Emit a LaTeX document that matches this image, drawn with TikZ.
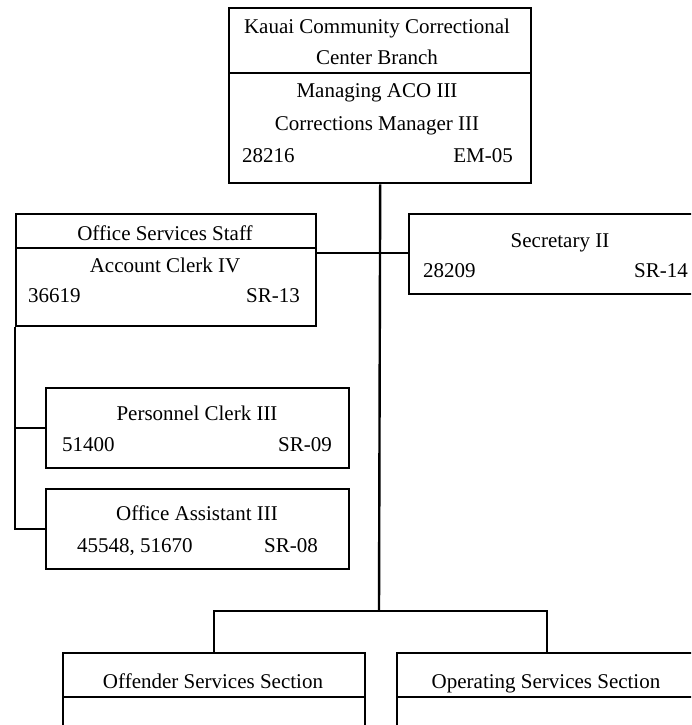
\documentclass[tikz,border=0pt]{standalone}
\usepackage{fontspec}
\setmainfont{Liberation Serif}
\begin{document}
\begin{tikzpicture}[x=1pt,y=-1pt,
  box/.style={draw, line width=2.4pt, inner sep=0pt, anchor=north west},
  lbl/.style={font=\fontsize{21}{25}\selectfont, inner sep=0pt, anchor=base},
  lbll/.style={lbl, anchor=base west},
  lblr/.style={lbl, anchor=base east},
  conn/.style={line width=2.4pt}]
\useasboundingbox (0,0) rectangle (691,725);
\clip (0,0) rectangle (691,725);
% boxes
\node[box, minimum width=302pt, minimum height=175pt] (top) at (228,7) {};
\node[box, minimum width=300pt, minimum height=112pt] (oss) at (15,213) {};
\node[box, minimum width=304pt, minimum height=80pt] (sec) at (408,213) {};
\node[box, minimum width=303pt, minimum height=80pt] (pc) at (45,387) {};
\node[box, minimum width=303pt, minimum height=80pt] (oa) at (45,488) {};
\node[box, minimum width=302pt, minimum height=110pt] (off) at (62,652) {};
\node[box, minimum width=300pt, minimum height=110pt] (op) at (396,652) {};
% dividers
\draw[conn] (top.west |- 0,73) -- (top.east |- 0,73);
\draw[conn] (oss.west |- 0,248) -- (oss.east |- 0,248);
\draw[conn] (off.west |- 0,697) -- (off.east |- 0,697);
\draw[conn] (op.west |- 0,697) -- (op.east |- 0,697);
% texts
\node[lbl] (t1) at (377,34) {Kauai Community Correctional};
\node[lbl] (t2) at (377,65) {Center Branch};
\node[lbl] (t3) at (377,97) {Managing ACO III};
\node[lbl] (t4) at (377,130) {Corrections Manager III};
\node[lbll] (t5) at (242,162) {28216};
\node[lblr] (t6) at (513,162) {EM-05};
\node[lbl] (o1) at (165,240) {Office Services Staff};
\node[lbl] (o2) at (165,272) {Account Clerk IV};
\node[lbll] (o3) at (28,302) {36619};
\node[lblr] (o4) at (300,302) {SR-13};
\node[lbl] (s1) at (560,247) {Secretary II};
\node[lbll] (s2) at (423,277) {28209};
\node[lblr] (s3) at (688,277) {SR-14};
\node[lbl] (p1) at (197,420) {Personnel Clerk III};
\node[lbll] (p2) at (62,451) {51400};
\node[lblr] (p3) at (332,451) {SR-09};
\node[lbl] (a1) at (197,520) {Office Assistant III};
\node[lbll] (a2) at (77,552) {45548, 51670};
\node[lblr] (a3) at (318,552) {SR-08};
\node[lbl] (f1) at (213,688) {Offender Services Section};
\node[lbl] (g1) at (546,688) {Operating Services Section};
% connectors
\coordinate (hy) at (0,253);
\coordinate (bar) at (379,611);
\draw[conn] (top.south) -- (bar);
\draw[conn] (oss.east |- hy) -- (sec.west |- hy);
\draw[conn] (oss.south west) -- (oss.south west |- oa.west) -- (oa.west);
\draw[conn] (oss.south west |- pc.west) -- (pc.west);
\draw[conn] (off.north) -- (off.north |- bar) -- (op.north |- bar) -- (op.north);
\end{tikzpicture}
\end{document}
